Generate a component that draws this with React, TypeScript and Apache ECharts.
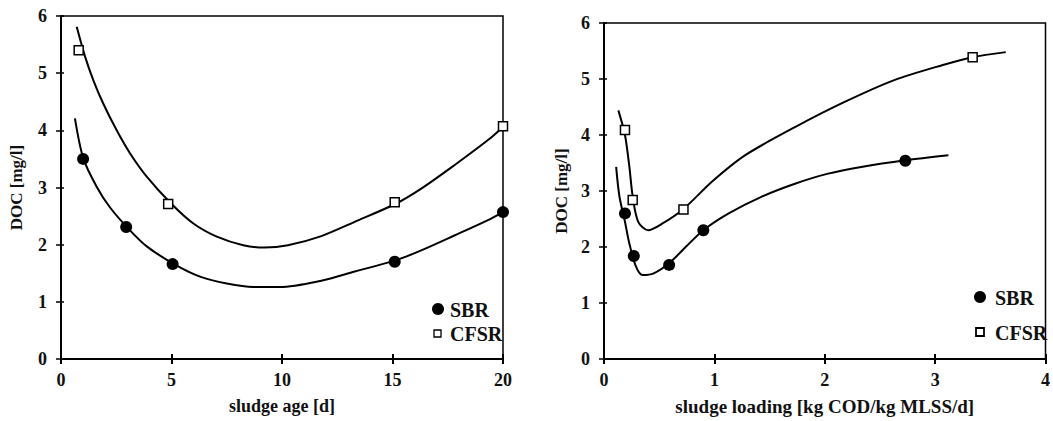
import React, { useEffect, useRef } from "react";
import * as echarts from "echarts";

// Left panel: sludge age [d]
const ageSBR: [number, number][] = [[1.0, 3.5], [2.95, 2.31], [5.05, 1.66], [15.1, 1.7], [20, 2.57]];
const ageCFSR: [number, number][] = [[0.8, 5.4], [4.85, 2.71], [15.1, 2.74], [20, 4.07]];
const ageSBRCurve: [number, number][] = [
  [0.63, 4.21], [1.01, 3.51], [1.62, 3.01], [2.22, 2.65], [3.05, 2.28], [3.88, 1.97], [5.16, 1.65],
  [6.29, 1.44], [7.5, 1.32], [8.7, 1.26], [9.9, 1.26], [11.78, 1.37], [13.29, 1.53],
  [15.17, 1.73], [16.3, 1.9], [17.8, 2.16], [19.32, 2.43], [20, 2.57],
];
const ageCFSRCurve: [number, number][] = [
  [0.71, 5.81], [1.09, 5.29], [1.46, 4.88], [1.91, 4.47], [2.52, 4.0], [3.12, 3.6], [3.88, 3.19],
  [4.98, 2.72], [5.99, 2.37], [7.05, 2.14], [8.25, 1.99], [9.2, 1.95], [10.27, 1.99], [11.78, 2.15],
  [13.29, 2.4], [15.17, 2.72], [16.3, 2.98], [17.8, 3.39], [19.32, 3.83], [20, 4.06],
];

// Right panel: sludge loading [kg COD/kg MLSS/d]
const loadSBR: [number, number][] = [[0.19, 2.6], [0.27, 1.84], [0.59, 1.68], [0.9, 2.3], [2.73, 3.54]];
const loadCFSR: [number, number][] = [[0.19, 4.09], [0.26, 2.84], [0.72, 2.67], [3.34, 5.39]];
const loadSBRCurve: [number, number][] = [
  [0.11, 3.43], [0.14, 2.9], [0.19, 2.45], [0.23, 2.06], [0.29, 1.65], [0.35, 1.5], [0.45, 1.53],
  [0.59, 1.71], [0.74, 2.0], [0.9, 2.3], [1.13, 2.6], [1.43, 2.9], [1.73, 3.13], [2.03, 3.31],
  [2.33, 3.43], [2.73, 3.55], [3.12, 3.64],
];
const loadCFSRCurve: [number, number][] = [
  [0.13, 4.44], [0.19, 4.0], [0.23, 3.43], [0.26, 2.9], [0.31, 2.45], [0.4, 2.3], [0.53, 2.42],
  [0.72, 2.68], [0.98, 3.17], [1.28, 3.64], [1.73, 4.14], [2.18, 4.59], [2.63, 4.98], [3.07, 5.25],
  [3.34, 5.39], [3.64, 5.48],
];

const FONT = "Liberation Serif";

export default function App() {
  const ref = useRef<HTMLDivElement>(null);
  useEffect(() => {
    if (!ref.current) return;
    const chart = echarts.init(ref.current, undefined, { renderer: "svg" });
    const labelStyle = { color: "#111", fontFamily: FONT, fontSize: 18, fontWeight: "bold" as const };
    const nameStyle = (fs: number) => ({ color: "#111", fontFamily: FONT, fontSize: fs, fontWeight: "bold" as const });
    const axisLine = { show: true, lineStyle: { color: "#000", width: 2 } };
    const mkX = (gi: number, max: number, interval: number, name: string, fs: number) => [
      {
        type: "value", gridIndex: gi, min: 0, max, interval, position: "bottom",
        name, nameLocation: "middle", nameGap: 38, nameTextStyle: nameStyle(fs),
        axisLine, axisTick: { show: true, length: 5, lineStyle: { color: "#000", width: 2 } },
        axisLabel: { ...labelStyle, margin: 12 }, splitLine: { show: false },
      },
      {
        type: "value", gridIndex: gi, min: 0, max, interval, position: "bottom",
        axisLine: { show: false }, axisTick: { show: true, inside: true, length: 5, lineStyle: { color: "#000", width: 2 } },
        axisLabel: { show: false }, splitLine: { show: false },
      },
    ];
    const mkY = (gi: number, nameGap: number) => [
      {
        type: "value", gridIndex: gi, min: 0, max: 6, interval: 1, position: "left",
        name: "DOC [mg/l]", nameLocation: "middle", nameGap, nameTextStyle: nameStyle(17),
        axisLine, axisTick: { show: true, length: 5, lineStyle: { color: "#000", width: 1.5 } },
        axisLabel: { ...labelStyle, margin: 14 }, splitLine: { show: false },
      },
      {
        type: "value", gridIndex: gi, min: 0, max: 6, interval: 1, position: "left",
        axisLine: { show: false }, axisTick: { show: true, inside: true, length: 3, lineStyle: { color: "#000", width: 1.5 } },
        axisLabel: { show: false }, splitLine: { show: false },
      },
    ];
    const curve = (name: string, xi: number, yi: number, data: [number, number][]) => ({
      type: "line", name, xAxisIndex: xi, yAxisIndex: yi, data, smooth: 0.3, showSymbol: false,
      lineStyle: { color: "#000", width: 2 }, silent: true, z: 2,
    });
    const sbr = (xi: number, yi: number, data: [number, number][]) => ({
      type: "scatter", name: "SBR", xAxisIndex: xi, yAxisIndex: yi, data, symbol: "circle", symbolSize: 12,
      itemStyle: { color: "#000", opacity: 1 }, z: 3,
    });
    const cfsr = (xi: number, yi: number, data: [number, number][]) => ({
      type: "scatter", name: "CFSR", xAxisIndex: xi, yAxisIndex: yi, data, symbol: "rect", symbolSize: 9,
      itemStyle: { color: "#fff", borderColor: "#000", borderWidth: 1.5, opacity: 1 }, z: 3,
    });
    const legendText = { fontFamily: FONT, fontSize: 20, fontWeight: "bold", fill: "#111" };
    chart.setOption({
      animation: false,
      backgroundColor: "#fff",
      grid: [
        { left: 61, top: 16, width: 442, height: 343, show: true, borderColor: "#000", borderWidth: 1.5 },
        { left: 604, top: 23, width: 446, height: 336, show: true, borderColor: "#000", borderWidth: 1.5 },
      ],
      xAxis: [...mkX(0, 20, 5, "sludge age [d]", 18), ...mkX(1, 4, 1, "sludge loading [kg COD/kg MLSS/d]", 19)],
      yAxis: [...mkY(0, 36), ...mkY(1, 34)],
      series: [
        curve("SBR fit", 0, 0, ageSBRCurve),
        curve("CFSR fit", 0, 0, ageCFSRCurve),
        sbr(0, 0, ageSBR),
        cfsr(0, 0, ageCFSR),
        curve("SBR fit", 2, 2, loadSBRCurve),
        curve("CFSR fit", 2, 2, loadCFSRCurve),
        sbr(2, 2, loadSBR),
        cfsr(2, 2, loadCFSR),
      ],
      graphic: [
        { type: "circle", shape: { cx: 438, cy: 309, r: 6 }, style: { fill: "#000" } },
        { type: "text", x: 450, y: 310, style: { ...legendText, text: "SBR", verticalAlign: "middle" } },
        { type: "rect", shape: { x: 434, y: 330, width: 7, height: 7 }, style: { fill: "#fff", stroke: "#000", lineWidth: 1.3 } },
        { type: "text", x: 450, y: 334, style: { ...legendText, text: "CFSR", verticalAlign: "middle" } },
        { type: "circle", shape: { cx: 980, cy: 297, r: 6 }, style: { fill: "#000" } },
        { type: "text", x: 995, y: 298, style: { ...legendText, text: "SBR", verticalAlign: "middle" } },
        { type: "rect", shape: { x: 976, y: 328, width: 8, height: 8 }, style: { fill: "#fff", stroke: "#000", lineWidth: 1.8 } },
        { type: "text", x: 995, y: 333, style: { ...legendText, text: "CFSR", verticalAlign: "middle" } },
      ],
    });
    return () => chart.dispose();
  }, []);
  return <div ref={ref} style={{ position: "absolute", left: 0, top: 0, width: 1053, height: 421 }} />;
}
